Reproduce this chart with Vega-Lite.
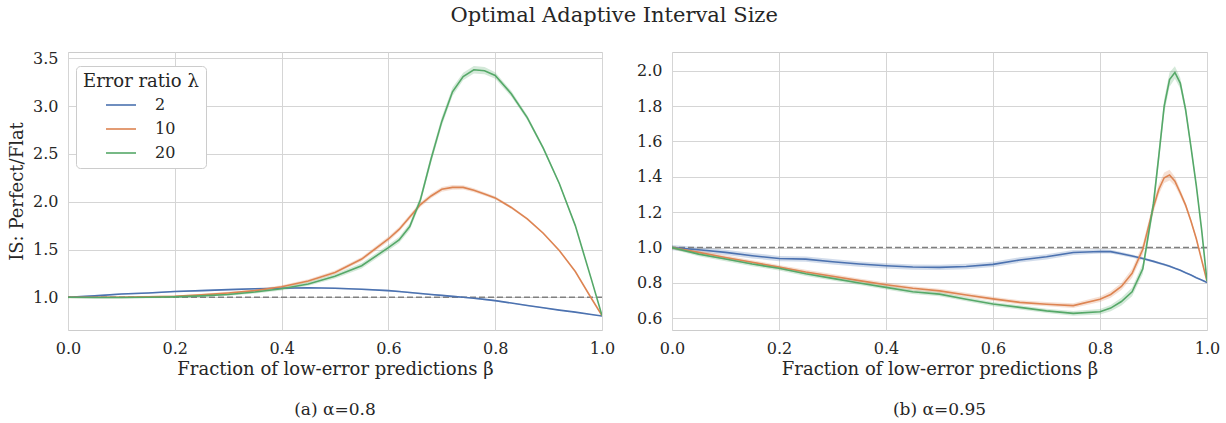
{
"$schema": "https://vega.github.io/schema/vega-lite/v6.json",
"background": "white",
"padding": {"left": 8, "top": 4, "right": 5, "bottom": 4},
"title": {"text": "Optimal Adaptive Interval Size", "fontSize": 21, "font": "DejaVu Serif", "fontWeight": "normal", "color": "#262626", "anchor": "middle", "offset": 24},
"config": {
  "font": "DejaVu Serif",
  "view": {"stroke": "#cccccc", "strokeWidth": 1},
  "axis": {"domain": false, "tickSize": 0, "labelPadding": 10, "labelFlush": false, "labelOverlap": false, "tickCount": 12, "gridColor": "#d5d5d5", "gridWidth": 1, "labelFontSize": 16, "titleFontSize": 18, "labelColor": "#262626", "titleColor": "#262626", "titleFontWeight": "normal", "labelFont": "DejaVu Serif", "titleFont": "DejaVu Serif"},
  "legend": {"orient": "none", "legendX": 8, "legendY": 14, "padding": 7, "fillColor": "white", "strokeColor": "#cccccc", "cornerRadius": 4, "titleFontSize": 18, "titleFontWeight": "normal", "titleColor": "#262626", "labelFontSize": 16, "labelColor": "#262626", "symbolType": "stroke", "symbolSize": 900, "symbolStrokeWidth": 1.6, "symbolOpacity": 1, "symbolOffset": 22, "labelOffset": 18, "rowPadding": 0, "titlePadding": -2, "titleFont": "DejaVu Serif", "labelFont": "DejaVu Serif"},
  "title": {"font": "DejaVu Serif", "fontWeight": "normal", "color": "#262626"},
  "concat": {"spacing": 20}
},
"datasets": {
"p1": [
{"l":"2","x":0,"y":1.0,"lo":0.992,"hi":1.008},
{"l":"2","x":0.05,"y":1.015,"lo":1.007,"hi":1.023},
{"l":"2","x":0.1,"y":1.035,"lo":1.027,"hi":1.043},
{"l":"2","x":0.15,"y":1.045,"lo":1.037,"hi":1.053},
{"l":"2","x":0.2,"y":1.06,"lo":1.052,"hi":1.068},
{"l":"2","x":0.25,"y":1.07,"lo":1.062,"hi":1.078},
{"l":"2","x":0.3,"y":1.08,"lo":1.072,"hi":1.088},
{"l":"2","x":0.35,"y":1.09,"lo":1.082,"hi":1.098},
{"l":"2","x":0.4,"y":1.095,"lo":1.087,"hi":1.103},
{"l":"2","x":0.45,"y":1.1,"lo":1.092,"hi":1.108},
{"l":"2","x":0.5,"y":1.095,"lo":1.087,"hi":1.103},
{"l":"2","x":0.55,"y":1.085,"lo":1.077,"hi":1.093},
{"l":"2","x":0.6,"y":1.07,"lo":1.062,"hi":1.078},
{"l":"2","x":0.62,"y":1.06,"lo":1.052,"hi":1.068},
{"l":"2","x":0.64,"y":1.05,"lo":1.042,"hi":1.058},
{"l":"2","x":0.66,"y":1.04,"lo":1.032,"hi":1.048},
{"l":"2","x":0.68,"y":1.03,"lo":1.022,"hi":1.038},
{"l":"2","x":0.7,"y":1.02,"lo":1.012,"hi":1.028},
{"l":"2","x":0.72,"y":1.01,"lo":1.002,"hi":1.018},
{"l":"2","x":0.74,"y":1.0,"lo":0.992,"hi":1.008},
{"l":"2","x":0.76,"y":0.99,"lo":0.982,"hi":0.998},
{"l":"2","x":0.78,"y":0.978,"lo":0.97,"hi":0.986},
{"l":"2","x":0.8,"y":0.965,"lo":0.957,"hi":0.973},
{"l":"2","x":0.83,"y":0.94,"lo":0.934,"hi":0.946},
{"l":"2","x":0.86,"y":0.915,"lo":0.909,"hi":0.921},
{"l":"2","x":0.89,"y":0.89,"lo":0.884,"hi":0.896},
{"l":"2","x":0.92,"y":0.866,"lo":0.861,"hi":0.871},
{"l":"2","x":0.95,"y":0.845,"lo":0.84,"hi":0.85},
{"l":"2","x":0.98,"y":0.82,"lo":0.816,"hi":0.824},
{"l":"2","x":1.0,"y":0.805,"lo":0.802,"hi":0.808},
{"l":"10","x":0,"y":1.0,"lo":0.99,"hi":1.01},
{"l":"10","x":0.05,"y":1.0,"lo":0.99,"hi":1.01},
{"l":"10","x":0.1,"y":1.0,"lo":0.99,"hi":1.01},
{"l":"10","x":0.15,"y":1.005,"lo":0.995,"hi":1.015},
{"l":"10","x":0.2,"y":1.01,"lo":1.0,"hi":1.02},
{"l":"10","x":0.25,"y":1.025,"lo":1.013,"hi":1.037},
{"l":"10","x":0.3,"y":1.045,"lo":1.033,"hi":1.057},
{"l":"10","x":0.35,"y":1.07,"lo":1.056,"hi":1.084},
{"l":"10","x":0.4,"y":1.11,"lo":1.094,"hi":1.126},
{"l":"10","x":0.45,"y":1.17,"lo":1.152,"hi":1.188},
{"l":"10","x":0.5,"y":1.26,"lo":1.24,"hi":1.28},
{"l":"10","x":0.55,"y":1.4,"lo":1.378,"hi":1.422},
{"l":"10","x":0.6,"y":1.61,"lo":1.585,"hi":1.635},
{"l":"10","x":0.62,"y":1.71,"lo":1.685,"hi":1.735},
{"l":"10","x":0.64,"y":1.84,"lo":1.815,"hi":1.865},
{"l":"10","x":0.66,"y":1.97,"lo":1.945,"hi":1.995},
{"l":"10","x":0.68,"y":2.06,"lo":2.035,"hi":2.085},
{"l":"10","x":0.7,"y":2.13,"lo":2.105,"hi":2.155},
{"l":"10","x":0.72,"y":2.15,"lo":2.125,"hi":2.175},
{"l":"10","x":0.74,"y":2.15,"lo":2.128,"hi":2.172},
{"l":"10","x":0.76,"y":2.12,"lo":2.1,"hi":2.14},
{"l":"10","x":0.78,"y":2.08,"lo":2.062,"hi":2.098},
{"l":"10","x":0.8,"y":2.04,"lo":2.024,"hi":2.056},
{"l":"10","x":0.83,"y":1.94,"lo":1.926,"hi":1.954},
{"l":"10","x":0.86,"y":1.82,"lo":1.808,"hi":1.832},
{"l":"10","x":0.89,"y":1.67,"lo":1.66,"hi":1.68},
{"l":"10","x":0.92,"y":1.49,"lo":1.482,"hi":1.498},
{"l":"10","x":0.95,"y":1.27,"lo":1.264,"hi":1.276},
{"l":"10","x":0.98,"y":0.99,"lo":0.986,"hi":0.994},
{"l":"10","x":1.0,"y":0.81,"lo":0.807,"hi":0.813},
{"l":"20","x":0,"y":1.0,"lo":0.99,"hi":1.01},
{"l":"20","x":0.05,"y":0.998,"lo":0.988,"hi":1.008},
{"l":"20","x":0.1,"y":0.998,"lo":0.988,"hi":1.008},
{"l":"20","x":0.15,"y":1.0,"lo":0.99,"hi":1.01},
{"l":"20","x":0.2,"y":1.005,"lo":0.993,"hi":1.017},
{"l":"20","x":0.25,"y":1.015,"lo":1.003,"hi":1.027},
{"l":"20","x":0.3,"y":1.03,"lo":1.016,"hi":1.044},
{"l":"20","x":0.35,"y":1.055,"lo":1.039,"hi":1.071},
{"l":"20","x":0.4,"y":1.09,"lo":1.072,"hi":1.108},
{"l":"20","x":0.45,"y":1.14,"lo":1.12,"hi":1.16},
{"l":"20","x":0.5,"y":1.22,"lo":1.196,"hi":1.244},
{"l":"20","x":0.55,"y":1.33,"lo":1.302,"hi":1.358},
{"l":"20","x":0.6,"y":1.52,"lo":1.49,"hi":1.55},
{"l":"20","x":0.62,"y":1.6,"lo":1.568,"hi":1.632},
{"l":"20","x":0.64,"y":1.74,"lo":1.705,"hi":1.775},
{"l":"20","x":0.66,"y":2.02,"lo":1.98,"hi":2.06},
{"l":"20","x":0.68,"y":2.45,"lo":2.405,"hi":2.495},
{"l":"20","x":0.7,"y":2.84,"lo":2.795,"hi":2.885},
{"l":"20","x":0.72,"y":3.15,"lo":3.105,"hi":3.195},
{"l":"20","x":0.74,"y":3.31,"lo":3.27,"hi":3.35},
{"l":"20","x":0.76,"y":3.38,"lo":3.34,"hi":3.42},
{"l":"20","x":0.78,"y":3.37,"lo":3.332,"hi":3.408},
{"l":"20","x":0.8,"y":3.32,"lo":3.285,"hi":3.355},
{"l":"20","x":0.83,"y":3.13,"lo":3.1,"hi":3.16},
{"l":"20","x":0.86,"y":2.88,"lo":2.855,"hi":2.905},
{"l":"20","x":0.89,"y":2.56,"lo":2.54,"hi":2.58},
{"l":"20","x":0.92,"y":2.19,"lo":2.175,"hi":2.205},
{"l":"20","x":0.95,"y":1.75,"lo":1.74,"hi":1.76},
{"l":"20","x":0.98,"y":1.19,"lo":1.184,"hi":1.196},
{"l":"20","x":1.0,"y":0.81,"lo":0.807,"hi":0.813}
],
"p2": [
{"l":"2","x":0,"y":1.0,"lo":0.985,"hi":1.015},
{"l":"2","x":0.05,"y":0.988,"lo":0.973,"hi":1.003},
{"l":"2","x":0.1,"y":0.973,"lo":0.958,"hi":0.988},
{"l":"2","x":0.15,"y":0.954,"lo":0.939,"hi":0.969},
{"l":"2","x":0.2,"y":0.938,"lo":0.923,"hi":0.953},
{"l":"2","x":0.25,"y":0.935,"lo":0.92,"hi":0.95},
{"l":"2","x":0.3,"y":0.92,"lo":0.905,"hi":0.935},
{"l":"2","x":0.35,"y":0.907,"lo":0.892,"hi":0.922},
{"l":"2","x":0.4,"y":0.897,"lo":0.882,"hi":0.912},
{"l":"2","x":0.45,"y":0.89,"lo":0.875,"hi":0.905},
{"l":"2","x":0.5,"y":0.888,"lo":0.873,"hi":0.903},
{"l":"2","x":0.55,"y":0.893,"lo":0.878,"hi":0.908},
{"l":"2","x":0.6,"y":0.905,"lo":0.89,"hi":0.92},
{"l":"2","x":0.65,"y":0.93,"lo":0.915,"hi":0.945},
{"l":"2","x":0.7,"y":0.948,"lo":0.933,"hi":0.963},
{"l":"2","x":0.75,"y":0.972,"lo":0.958,"hi":0.986},
{"l":"2","x":0.8,"y":0.978,"lo":0.966,"hi":0.99},
{"l":"2","x":0.82,"y":0.977,"lo":0.966,"hi":0.988},
{"l":"2","x":0.84,"y":0.965,"lo":0.955,"hi":0.975},
{"l":"2","x":0.86,"y":0.952,"lo":0.943,"hi":0.961},
{"l":"2","x":0.88,"y":0.938,"lo":0.93,"hi":0.946},
{"l":"2","x":0.9,"y":0.922,"lo":0.915,"hi":0.929},
{"l":"2","x":0.91,"y":0.913,"lo":0.906,"hi":0.92},
{"l":"2","x":0.92,"y":0.904,"lo":0.898,"hi":0.91},
{"l":"2","x":0.93,"y":0.895,"lo":0.889,"hi":0.901},
{"l":"2","x":0.94,"y":0.883,"lo":0.878,"hi":0.888},
{"l":"2","x":0.95,"y":0.872,"lo":0.867,"hi":0.877},
{"l":"2","x":0.96,"y":0.858,"lo":0.854,"hi":0.862},
{"l":"2","x":0.97,"y":0.845,"lo":0.841,"hi":0.849},
{"l":"2","x":0.98,"y":0.83,"lo":0.827,"hi":0.833},
{"l":"2","x":0.99,"y":0.817,"lo":0.814,"hi":0.82},
{"l":"2","x":1.0,"y":0.803,"lo":0.8,"hi":0.806},
{"l":"10","x":0,"y":1.0,"lo":0.99,"hi":1.01},
{"l":"10","x":0.05,"y":0.973,"lo":0.961,"hi":0.985},
{"l":"10","x":0.1,"y":0.944,"lo":0.932,"hi":0.956},
{"l":"10","x":0.15,"y":0.917,"lo":0.905,"hi":0.929},
{"l":"10","x":0.2,"y":0.89,"lo":0.878,"hi":0.902},
{"l":"10","x":0.25,"y":0.862,"lo":0.85,"hi":0.874},
{"l":"10","x":0.3,"y":0.838,"lo":0.826,"hi":0.85},
{"l":"10","x":0.35,"y":0.813,"lo":0.801,"hi":0.825},
{"l":"10","x":0.4,"y":0.79,"lo":0.778,"hi":0.802},
{"l":"10","x":0.45,"y":0.77,"lo":0.758,"hi":0.782},
{"l":"10","x":0.5,"y":0.755,"lo":0.743,"hi":0.767},
{"l":"10","x":0.55,"y":0.732,"lo":0.72,"hi":0.744},
{"l":"10","x":0.6,"y":0.71,"lo":0.698,"hi":0.722},
{"l":"10","x":0.65,"y":0.69,"lo":0.678,"hi":0.702},
{"l":"10","x":0.7,"y":0.68,"lo":0.668,"hi":0.692},
{"l":"10","x":0.75,"y":0.672,"lo":0.659,"hi":0.685},
{"l":"10","x":0.8,"y":0.708,"lo":0.692,"hi":0.724},
{"l":"10","x":0.82,"y":0.735,"lo":0.717,"hi":0.753},
{"l":"10","x":0.84,"y":0.78,"lo":0.76,"hi":0.8},
{"l":"10","x":0.86,"y":0.855,"lo":0.83,"hi":0.88},
{"l":"10","x":0.88,"y":0.99,"lo":0.96,"hi":1.02},
{"l":"10","x":0.9,"y":1.23,"lo":1.2,"hi":1.26},
{"l":"10","x":0.91,"y":1.33,"lo":1.3,"hi":1.36},
{"l":"10","x":0.92,"y":1.395,"lo":1.365,"hi":1.425},
{"l":"10","x":0.93,"y":1.41,"lo":1.38,"hi":1.44},
{"l":"10","x":0.94,"y":1.375,"lo":1.35,"hi":1.4},
{"l":"10","x":0.95,"y":1.31,"lo":1.29,"hi":1.33},
{"l":"10","x":0.96,"y":1.24,"lo":1.225,"hi":1.255},
{"l":"10","x":0.97,"y":1.15,"lo":1.138,"hi":1.162},
{"l":"10","x":0.98,"y":1.05,"lo":1.04,"hi":1.06},
{"l":"10","x":0.99,"y":0.93,"lo":0.924,"hi":0.936},
{"l":"10","x":1.0,"y":0.81,"lo":0.806,"hi":0.814},
{"l":"20","x":0,"y":1.0,"lo":0.99,"hi":1.01},
{"l":"20","x":0.05,"y":0.963,"lo":0.951,"hi":0.975},
{"l":"20","x":0.1,"y":0.935,"lo":0.923,"hi":0.947},
{"l":"20","x":0.15,"y":0.907,"lo":0.895,"hi":0.919},
{"l":"20","x":0.2,"y":0.883,"lo":0.871,"hi":0.895},
{"l":"20","x":0.25,"y":0.852,"lo":0.84,"hi":0.864},
{"l":"20","x":0.3,"y":0.826,"lo":0.814,"hi":0.838},
{"l":"20","x":0.35,"y":0.8,"lo":0.788,"hi":0.812},
{"l":"20","x":0.4,"y":0.775,"lo":0.763,"hi":0.787},
{"l":"20","x":0.45,"y":0.75,"lo":0.738,"hi":0.762},
{"l":"20","x":0.5,"y":0.737,"lo":0.725,"hi":0.749},
{"l":"20","x":0.55,"y":0.708,"lo":0.696,"hi":0.72},
{"l":"20","x":0.6,"y":0.681,"lo":0.669,"hi":0.693},
{"l":"20","x":0.65,"y":0.662,"lo":0.65,"hi":0.674},
{"l":"20","x":0.7,"y":0.642,"lo":0.63,"hi":0.654},
{"l":"20","x":0.75,"y":0.628,"lo":0.614,"hi":0.642},
{"l":"20","x":0.8,"y":0.637,"lo":0.621,"hi":0.653},
{"l":"20","x":0.82,"y":0.658,"lo":0.64,"hi":0.676},
{"l":"20","x":0.84,"y":0.695,"lo":0.673,"hi":0.717},
{"l":"20","x":0.86,"y":0.75,"lo":0.725,"hi":0.775},
{"l":"20","x":0.88,"y":0.88,"lo":0.85,"hi":0.91},
{"l":"20","x":0.9,"y":1.25,"lo":1.21,"hi":1.29},
{"l":"20","x":0.91,"y":1.52,"lo":1.48,"hi":1.56},
{"l":"20","x":0.92,"y":1.8,"lo":1.76,"hi":1.84},
{"l":"20","x":0.93,"y":1.95,"lo":1.91,"hi":1.99},
{"l":"20","x":0.94,"y":1.99,"lo":1.955,"hi":2.025},
{"l":"20","x":0.95,"y":1.93,"lo":1.9,"hi":1.96},
{"l":"20","x":0.96,"y":1.78,"lo":1.755,"hi":1.805},
{"l":"20","x":0.97,"y":1.57,"lo":1.55,"hi":1.59},
{"l":"20","x":0.98,"y":1.35,"lo":1.335,"hi":1.365},
{"l":"20","x":0.99,"y":1.1,"lo":1.09,"hi":1.11},
{"l":"20","x":1.0,"y":0.81,"lo":0.806,"hi":0.814}
],
"ref": [{"v": 1}]
},
"resolve": {"scale": {"color": "independent"}, "legend": {"color": "independent"}},
"hconcat": [
{
  "width": 534, "height": 278,
  "title": {"text": "(a) α=0.8", "orient": "bottom", "fontSize": 17, "offset": 24},
  "layer": [
    {"data": {"name": "p1"}, "mark": {"type": "area", "fillOpacity": 0.25, "clip": true},
     "encoding": {
       "x": {"field": "x", "type": "quantitative", "scale": {"domain": [0, 1], "nice": false}, "axis": {"values": [0, 0.2, 0.4, 0.6, 0.8, 1.0], "format": ".1f", "title": "Fraction of low-error predictions β", "titlePadding": 4}},
       "y": {"field": "lo", "type": "quantitative", "scale": {"domain": [0.658, 3.566], "nice": false, "zero": false}, "axis": {"values": [1, 1.5, 2, 2.5, 3, 3.5], "format": ".1f", "title": "IS: Perfect/Flat", "titlePadding": 6}},
       "y2": {"field": "hi"},
       "color": {"field": "l", "type": "nominal", "scale": {"domain": ["2", "10", "20"], "range": ["#4c72b0", "#dd8452", "#55a868"]}}
     }},
    {"data": {"name": "ref"}, "mark": {"type": "rule", "strokeDash": [6, 3], "color": "#808080", "strokeWidth": 1.5},
     "encoding": {"y": {"field": "v", "type": "quantitative"}}},
    {"data": {"name": "p1"}, "mark": {"type": "line", "strokeWidth": 1.6, "clip": true},
     "encoding": {
       "x": {"field": "x", "type": "quantitative"},
       "y": {"field": "y", "type": "quantitative"},
       "color": {"field": "l", "type": "nominal", "scale": {"domain": ["2", "10", "20"], "range": ["#4c72b0", "#dd8452", "#55a868"]}, "legend": {"title": "Error ratio λ", "symbolOpacity": 1, "symbolType": "stroke"}}
     }}
  ]
},
{
  "width": 535, "height": 278,
  "title": {"text": "(b) α=0.95", "orient": "bottom", "fontSize": 17, "offset": 24},
  "layer": [
    {"data": {"name": "p2"}, "mark": {"type": "area", "fillOpacity": 0.25, "clip": true},
     "encoding": {
       "x": {"field": "x", "type": "quantitative", "scale": {"domain": [0, 1], "nice": false}, "axis": {"values": [0, 0.2, 0.4, 0.6, 0.8, 1.0], "format": ".1f", "title": "Fraction of low-error predictions β", "titlePadding": 4}},
       "y": {"field": "lo", "type": "quantitative", "scale": {"domain": [0.534, 2.106], "nice": false, "zero": false}, "axis": {"values": [0.6, 0.8, 1.0, 1.2, 1.4, 1.6, 1.8, 2.0], "format": ".1f", "title": null}},
       "y2": {"field": "hi"},
       "color": {"field": "l", "type": "nominal", "scale": {"domain": ["2", "10", "20"], "range": ["#4c72b0", "#dd8452", "#55a868"]}, "legend": null}
     }},
    {"data": {"name": "ref"}, "mark": {"type": "rule", "strokeDash": [6, 3], "color": "#808080", "strokeWidth": 1.5},
     "encoding": {"y": {"field": "v", "type": "quantitative"}}},
    {"data": {"name": "p2"}, "mark": {"type": "line", "strokeWidth": 1.6, "clip": true},
     "encoding": {
       "x": {"field": "x", "type": "quantitative"},
       "y": {"field": "y", "type": "quantitative"},
       "color": {"field": "l", "type": "nominal", "scale": {"domain": ["2", "10", "20"], "range": ["#4c72b0", "#dd8452", "#55a868"]}, "legend": null}
     }}
  ]
}
]
}
